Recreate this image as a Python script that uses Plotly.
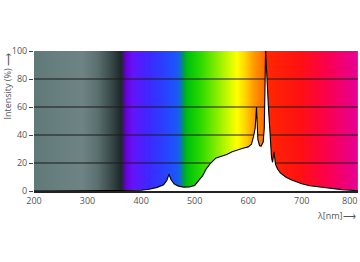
import numpy as np
import plotly.graph_objects as go

# ---- data ----
wavelength_nm = [200, 380, 400, 415, 430, 442, 448, 452, 456, 462, 470, 480, 490, 500,
                 508, 515, 522, 530, 540, 550, 560, 570, 580, 590, 600, 606, 610, 613,
                 615.5, 618, 621, 624, 628, 630, 632.5, 634, 636, 638, 641, 643.5, 645.5,
                 648, 651, 655, 660, 670, 680, 690, 700, 715, 730, 750, 775, 805]
intensity_pct = [0, 0, 0.5, 1.2, 2.6, 4.5, 7.5, 12, 8, 5, 3.5, 2.8, 2.9, 4,
                 7.5, 11, 16, 20, 23.6, 25, 26, 28, 29.5, 30.5, 31.5, 33.5, 39, 45,
                 60, 37, 32.5, 32, 35, 45, 100, 85, 71, 58, 40, 24, 20.5,
                 28, 19, 15.5, 12.9, 10, 8, 6.5, 5.2, 3.8, 3, 2, 1, 0.2]
x_ticks = [200, 300, 400, 500, 600, 700, 800]
y_ticks = [0, 20, 40, 60, 80, 100]
grid_levels = [20, 40, 60, 80]

# ---- style: background spectrum gradient stops (wavelength, colour) ----
X_MIN, X_MAX = 200, 805
gradient_stops = [
    (200, "rgb(95,120,120)"), (250, "rgb(105,128,128)"), (290, "rgb(110,132,132)"),
    (320, "rgb(90,110,110)"), (345, "rgb(55,72,72)"), (363, "rgb(28,40,42)"),
    (372, "rgb(105,0,215)"), (385, "rgb(100,20,250)"), (415, "rgb(60,40,255)"),
    (460, "rgb(30,80,255)"), (472, "rgb(20,100,230)"), (480, "rgb(0,160,60)"),
    (488, "rgb(0,195,10)"), (510, "rgb(40,215,0)"), (537, "rgb(120,235,0)"),
    (565, "rgb(210,250,0)"), (580, "rgb(255,255,0)"), (595, "rgb(255,210,0)"),
    (612, "rgb(255,150,0)"), (630.5, "rgb(255,105,0)"), (632.5, "rgb(255,40,0)"),
    (700, "rgb(255,15,20)"), (750, "rgb(250,0,80)"), (805, "rgb(230,0,150)"),
]
colorscale = [[(w - X_MIN) / (X_MAX - X_MIN), c] for w, c in gradient_stops]

bg_x = np.arange(X_MIN, X_MAX + 0.5, 0.5)
fig = go.Figure()
fig.add_trace(go.Heatmap(
    x=bg_x, y=[0, 100], z=[bg_x, bg_x], zmin=X_MIN, zmax=X_MAX,
    colorscale=colorscale, showscale=False, hoverinfo="skip"))

gx, gy = [], []
for g in grid_levels:
    gx += [X_MIN, X_MAX, None]
    gy += [g, g, None]
fig.add_trace(go.Scatter(x=gx, y=gy, mode="lines",
                         line=dict(color="rgb(30,25,25)", width=1),
                         hoverinfo="skip", showlegend=False))

fig.add_trace(go.Scatter(x=wavelength_nm, y=intensity_pct, mode="lines",
                         line=dict(color="black", width=1.1),
                         fill="tozeroy", fillcolor="white",
                         hoverinfo="skip", showlegend=False))

font = dict(family="Open Sans", size=9, color="#555")
fig.update_layout(
    width=360, height=262, margin=dict(l=34, r=2, t=51, b=71),
    paper_bgcolor="white", plot_bgcolor="white", showlegend=False,
    font=font,
    xaxis=dict(range=[X_MIN, X_MAX], tickvals=x_ticks[:-1], showgrid=False,
               zeroline=False, showline=True, linecolor="#222", linewidth=1.5,
               ticks="", tickfont=font, fixedrange=True),
    yaxis=dict(range=[0, 100], tickvals=y_ticks, showgrid=False, zeroline=False,
               showline=False, ticks="outside", ticklen=4, tickcolor="#444",
               tickwidth=1, tickfont=font, fixedrange=True),
    annotations=[
        dict(text=str(x_ticks[-1]), x=x_ticks[-1], y=0, xref="x", yref="y",
             xanchor="right", yanchor="top", xshift=4, yshift=-1,
             showarrow=False, font=font),
        dict(text="λ[nm]⟶", x=1, y=-0.115, xref="paper", yref="paper",
             xanchor="right", yanchor="top", showarrow=False, font=font),
        dict(text="Intensity (%) ⟶", x=-0.083, y=1.0, xref="paper", yref="paper",
             xanchor="center", yanchor="top", textangle=-90, showarrow=False,
             font=font),
    ],
)
fig.write_html("out.html")
